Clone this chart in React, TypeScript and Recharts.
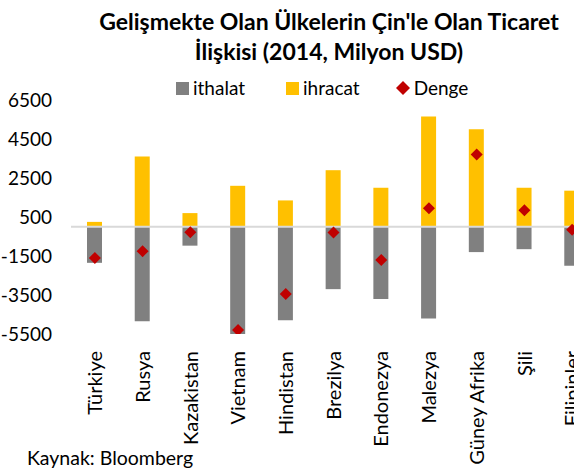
import React from 'react';
import {
  ComposedChart,
  Bar,
  Line,
  XAxis,
  YAxis,
  ReferenceLine,
} from 'recharts';

const countries = [
  'Türkiye', 'Rusya', 'Kazakistan', 'Vietnam', 'Hindistan', 'Brezilya',
  'Endonezya', 'Malezya', 'Güney Afrika', 'Şili', 'Filipinler',
];
const ithalat = [-1850, -4850, -970, -5550, -4800, -3200, -3700, -4700, -1300, -1150, -2000];
const ihracat = [250, 3600, 700, 2100, 1350, 2900, 2000, 5650, 5000, 2000, 1850];
const denge = [-1600, -1250, -280, -5300, -3450, -300, -1700, 950, 3700, 850, -150];
const yTicks = [-5500, -3500, -1500, 500, 2500, 4500, 6500];

const chartData = countries.map((name, i) => ({
  name,
  ithalat: ithalat[i],
  ihracat: ihracat[i],
  denge: denge[i],
}));

const FONT = 'Lato, "Open Sans", sans-serif';

const CountryTick = (props: any) => {
  const { x, y, payload } = props;
  return (
    <g transform={`translate(${x},${y + 9})`}>
      <text
        transform="rotate(-90)"
        textAnchor="end"
        dy="0.36em"
        fontSize={20}
        fontFamily={FONT}
        fill="#000"
      >
        {payload.value}
      </text>
    </g>
  );
};

const Diamond = (props: any) => {
  const { cx, cy } = props;
  if (cx == null || cy == null) return null;
  const r = 6;
  return (
    <polygon
      points={`${cx},${cy - r} ${cx + r},${cy} ${cx},${cy + r} ${cx - r},${cy}`}
      fill="#c00000"
    />
  );
};

export default function App() {
  return (
    <div
      style={{
        position: 'absolute',
        left: 0,
        top: 0,
        width: 574,
        height: 473,
        overflow: 'hidden',
        background: '#fff',
        fontFamily: FONT,
      }}
    >
      <div
        style={{
          position: 'absolute',
          left: 329 - 280,
          width: 560,
          top: 6,
          textAlign: 'center',
          fontWeight: 'bold',
          fontSize: 23,
          lineHeight: '30px',
          color: '#000',
        }}
      >
        Gelişmekte Olan Ülkelerin Çin'le Olan Ticaret
        <br />
        İlişkisi (2014, Milyon USD)
      </div>

      <div
        style={{
          position: 'absolute',
          top: 77,
          left: 176,
          display: 'flex',
          alignItems: 'center',
          fontSize: 19,
          lineHeight: '22px',
          color: '#000',
        }}
      >
        <span style={{ width: 13, height: 13, background: '#808080', marginRight: 4 }} />
        <span style={{ marginRight: 41 }}>ithalat</span>
        <span style={{ width: 13, height: 13, background: '#ffc000', marginRight: 4 }} />
        <span style={{ marginRight: 36 }}>ihracat</span>
        <svg width={14} height={14} style={{ marginRight: 4 }}>
          <polygon points="7,0 14,7 7,14 0,7" fill="#c00000" />
        </svg>
        <span>Denge</span>
      </div>

      <ComposedChart
        width={610}
        height={473}
        data={chartData}
        stackOffset="sign"
        margin={{ top: 100, right: 14, left: 0, bottom: 0 }}
      >
        <XAxis
          dataKey="name"
          height={139}
          axisLine={false}
          tickLine={false}
          interval={0}
          tick={<CountryTick />}
        />
        <YAxis
          width={71}
          domain={[-5500, 6500]}
          ticks={yTicks}
          allowDataOverflow
          axisLine={false}
          tickLine={false}
          tickMargin={13}
          tick={{ fill: '#000', fontSize: 19, fontFamily: FONT }}
        />
        <Bar dataKey="ithalat" stackId="a" fill="#808080" barSize={15} isAnimationActive={false} />
        <Bar dataKey="ihracat" stackId="a" fill="#ffc000" barSize={15} isAnimationActive={false} />
        <ReferenceLine y={0} stroke="#d9d9d9" strokeWidth={2} />
        <Line
          dataKey="denge"
          stroke="none"
          dot={<Diamond />}
          activeDot={false}
          isAnimationActive={false}
        />
      </ComposedChart>

      <div
        style={{
          position: 'absolute',
          left: 27,
          top: 446,
          fontSize: 19.5,
          color: '#000',
        }}
      >
        Kaynak: Bloomberg
      </div>
    </div>
  );
}
